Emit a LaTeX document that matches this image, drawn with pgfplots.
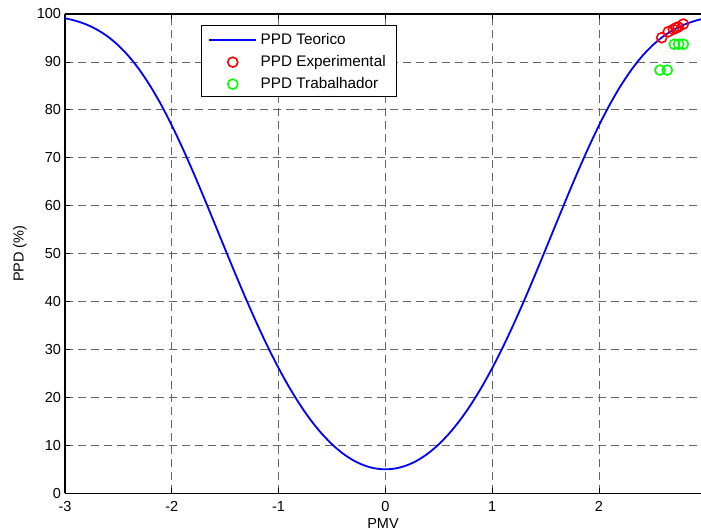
\documentclass[border=0pt]{standalone}
\usepackage{pgfplots}
\pgfplotsset{compat=1.18}
\usepackage{fontspec}
\setmainfont{Liberation Sans}
\definecolor{mblue}{RGB}{0,0,255}
\definecolor{mred}{RGB}{255,0,0}
\definecolor{mgreen}{RGB}{0,255,0}
\pgfplotsset{
  lineleg/.style={legend image code/.code={\draw[mblue, line width=1.8pt] (0pt,-1.5pt) -- (47pt,-1.5pt);}},
  markleg/.style={legend image code/.code={\draw[##1,mark repeat=1] plot coordinates {(23.5pt,-1.5pt)};}},
}
\newcommand{\ls}{\rule[-3pt]{0pt}{17pt}}
\begin{document}
\begin{tikzpicture}
\useasboundingbox (0,0) rectangle (701pt,532pt);
\begin{axis}[
  at={(65pt,38.7pt)}, anchor=south west,
  scale only axis, width=636pt, height=479.3pt,
  xmin=-3, xmax=2.955, ymin=0, ymax=100,
  axis x line=box, axis y line=left,
  axis line style={-, line width=1.2pt, black},
  xtick={-3,-2,-1,0,1,2}, ytick={0,10,...,100},
  tick align=inside, major tick length=5pt,
  tick style={black, line width=0.8pt},
  grid=major,
  major grid style={black!60, line width=0.8pt, dash pattern=on 8pt off 5pt},
  font=\fontsize{14.5}{17}\selectfont,
  /pgf/number format/assume math mode=true,
  xticklabel style={yshift=-5pt},
  yticklabel style={xshift=-0.5pt},
  xlabel={PMV}, ylabel={PPD (\%)},
  xlabel style={at={(axis description cs:0.5,0)}, anchor=center, yshift=-30.5pt},
  ylabel style={at={(axis description cs:-0.071,0.5)}, anchor=center, rotate=0},
  legend style={at={(axis description cs:0.2138,0.977)}, anchor=north west,
    draw=black, line width=0.8pt, inner xsep=7pt, inner ysep=3.5pt, row sep=2.5pt,
    nodes={inner xsep=3.5pt, inner ysep=2pt},
    font=\fontsize{15.3}{18}\selectfont},
  legend cell align=left,
]
\addplot[mblue, line width=1.8pt, smooth, lineleg] coordinates {
(-3.0,99.12) (-2.9,98.58) (-2.8,97.81) (-2.7,96.73) (-2.6,95.30) (-2.5,93.43)
(-2.4,91.10) (-2.3,88.26) (-2.2,84.91) (-2.1,81.07) (-2.0,76.76) (-1.9,72.05)
(-1.8,67.02) (-1.7,61.75) (-1.6,56.34) (-1.5,50.90) (-1.4,45.51) (-1.3,40.27)
(-1.2,35.25) (-1.1,30.51) (-1.0,26.12) (-0.9,22.10) (-0.8,18.49) (-0.7,15.30)
(-0.6,12.55) (-0.5,10.23) (-0.4,8.33) (-0.3,6.87) (-0.2,5.83) (-0.1,5.21)
(0.0,5.00)
(0.1,5.21) (0.2,5.83) (0.3,6.87) (0.4,8.33) (0.5,10.23) (0.6,12.55)
(0.7,15.30) (0.8,18.49) (0.9,22.10) (1.0,26.12) (1.1,30.51) (1.2,35.25)
(1.3,40.27) (1.4,45.51) (1.5,50.90) (1.6,56.34) (1.7,61.75) (1.8,67.02)
(1.9,72.05) (2.0,76.76) (2.1,81.07) (2.2,84.91) (2.3,88.26) (2.4,91.10)
(2.5,93.43) (2.6,95.30) (2.7,96.73) (2.8,97.81) (2.9,98.58) (2.955,98.90)
};
\addlegendentry{\ls PPD Teorico}
\addplot[only marks, mark=o, mark size=5pt, mred, line width=1.6pt, markleg] coordinates {
(2.587,95.05) (2.649,96.3) (2.696,96.8) (2.721,97.1) (2.742,97.3) (2.789,97.9)
};
\addlegendentry{\ls PPD Experimental}
\addplot[only marks, mark=o, mark size=5pt, mgreen, line width=1.6pt, markleg] coordinates {
(2.705,93.7) (2.746,93.7) (2.789,93.7) (2.571,88.3) (2.639,88.3)
};
\addlegendentry{\ls PPD Trabalhador}
\end{axis}
\end{tikzpicture}
\end{document}
